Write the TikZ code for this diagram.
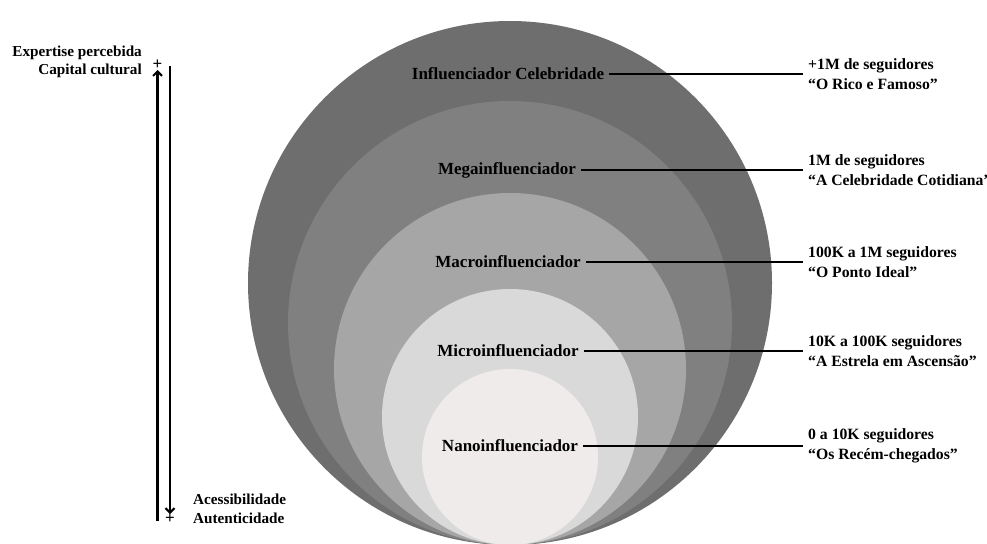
\documentclass[tikz,border=0pt]{standalone}
\usepackage{fontspec}
\setmainfont{Liberation Serif}
\usetikzlibrary{arrows.meta}
\definecolor{cA}{HTML}{6E6E6E}
\definecolor{cB}{HTML}{808080}
\definecolor{cC}{HTML}{A6A6A6}
\definecolor{cD}{HTML}{D9D9D9}
\definecolor{cE}{HTML}{EFEBEB}
\begin{document}
\begin{tikzpicture}[x=1pt,y=-1pt,
  lvl/.style={font=\fontsize{17}{20}\selectfont\bfseries, inner xsep=5pt, inner ysep=0pt},
  rtxt/.style={font=\fontsize{15.7}{20}\selectfont\bfseries, anchor=west, align=left, inner xsep=5pt, inner ysep=0pt},
  side/.style={font=\fontsize{15.2}{18.5}\selectfont\bfseries, inner sep=0pt},
  plus/.style={font=\fontsize{17}{17}\selectfont\bfseries, inner sep=0pt},
  conn/.style={line width=2.4pt},
  axis/.style={line width=2.1pt},
  tip/.style={-{Straight Barb[length=4.5pt,width=9pt]}}
]
\useasboundingbox (0,0) rectangle (987,543);
\begin{scope}
\clip (0,0) rectangle (987,543);
\fill[cA] (510,283) circle (262);
\fill[cB] (510,323) circle (222);
\fill[cC] (510,369) circle (176);
\fill[cD] (510,417) circle (128);
\fill[cE] (510,457) circle (88);
\end{scope}

\node[lvl] (celeb) at (508,74) {Influenciador Celebridade};
\node[lvl] (mega) at (507,170) {Megainfluenciador};
\node[lvl] (macro) at (508,262) {Macroinfluenciador};
\node[lvl] (micro) at (508,351) {Microinfluenciador};
\node[lvl] (nano) at (510,446) {Nanoinfluenciador};

\node[rtxt] (celebR) at (803,74) {+1M de seguidores\\“O Rico e Famoso”};
\node[rtxt] (megaR) at (803,170) {1M de seguidores\\“A Celebridade Cotidiana”};
\node[rtxt] (macroR) at (803,262) {100K a 1M seguidores\\“O Ponto Ideal”};
\node[rtxt] (microR) at (803,351) {10K a 100K seguidores\\“A Estrela em Ascensão”};
\node[rtxt] (nanoR) at (803,446) {0 a 10K seguidores\\“Os Recém-chegados”};

\draw[conn] (celeb.east) -- (celebR.west);
\draw[conn] (mega.east) -- (megaR.west);
\draw[conn] (macro.east) -- (macroR.west);
\draw[conn] (micro.east) -- (microR.west);
\draw[conn] (nano.east) -- (nanoR.west);

\node[side, anchor=east, align=right] (topL) at (142,62) {Expertise percebida\\Capital cultural};
\node[side, anchor=west, align=left] (botL) at (193,509) {Acessibilidade\\Autenticidade};

\node[plus] (plusT) at (157.5,65) {+};
\node[plus] (plusB) at (170,519) {+};
\coordinate (upStart) at (157.5,521);
\coordinate (downStart) at (170,66);
\draw[axis,tip] (upStart) -- (plusT.south);
\draw[axis,tip] (downStart) -- (plusB.north);
\end{tikzpicture}
\end{document}
